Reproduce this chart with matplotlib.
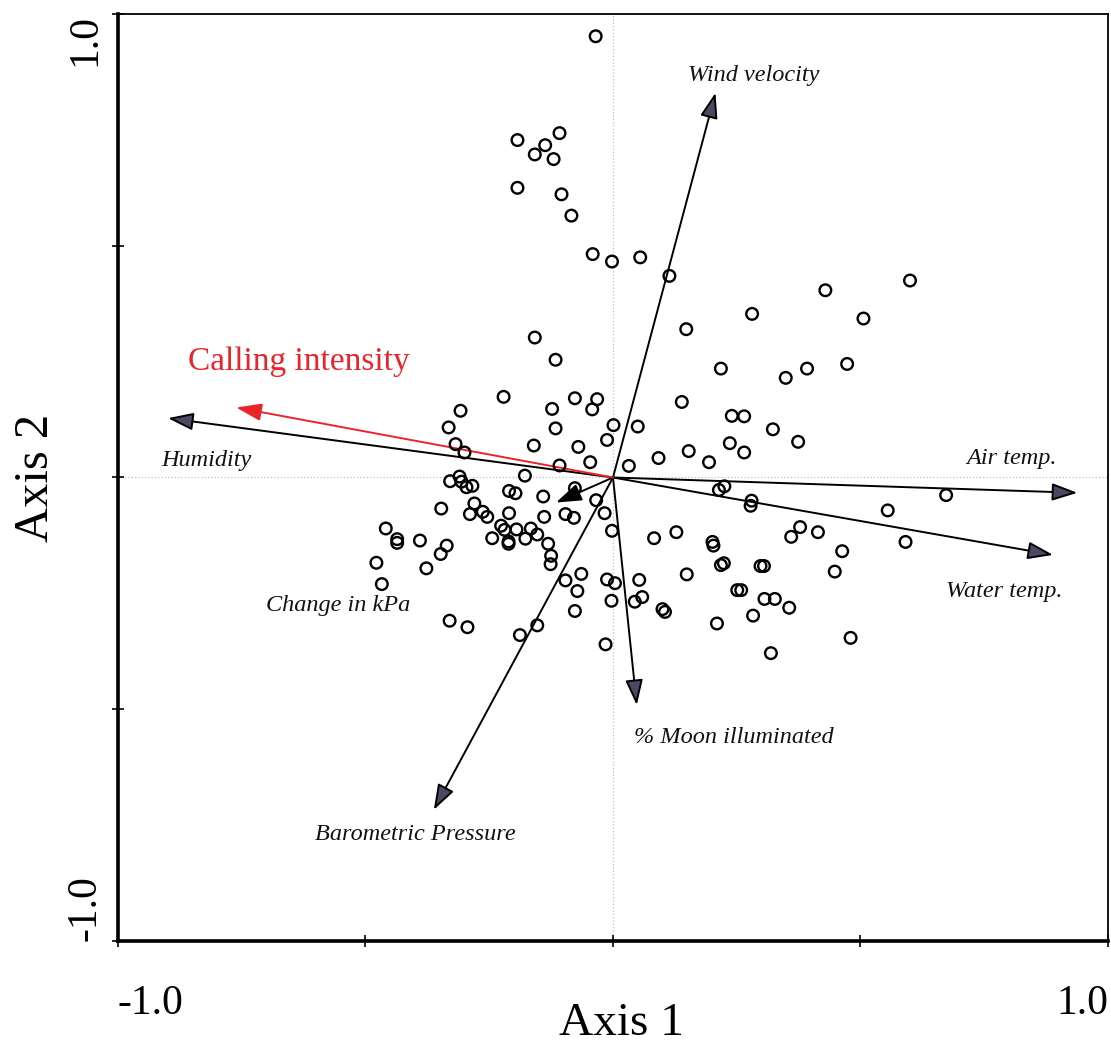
import matplotlib
matplotlib.use("Agg")
import matplotlib.pyplot as plt

plt.rcParams['font.family'] = ['Liberation Serif', 'DejaVu Serif']

# site scores on the first two ordination axes
score_x = [-0.035, -0.193, -0.108, -0.137, -0.158, -0.120, -0.193, -0.104, -0.084, -0.041,
           -0.002, 0.055, 0.114,
           -0.158, -0.116, -0.221, -0.077, -0.032, -0.308, -0.123, -0.042, 0.001, -0.332,
           -0.116, -0.012, -0.160, -0.070, -0.318, -0.300, -0.046, -0.108, -0.178, -0.329,
           -0.310, -0.306, -0.296, -0.284, -0.210, -0.197, -0.141, -0.077, -0.034, -0.347,
           -0.280, -0.289, -0.263, -0.254, -0.210, -0.139, -0.096, -0.079, -0.017, -0.226,
           -0.219, -0.195, -0.166, -0.153, -0.244, -0.211, -0.211, -0.177, -0.131, -0.125,
           -0.126, -0.002, -0.459, -0.436, -0.436, -0.390, -0.336, -0.348, -0.478, -0.377,
           -0.467, -0.096, -0.064, -0.072, -0.077, -0.012, -0.003, -0.330, -0.294, -0.188,
           -0.153, -0.015,
           0.600, 0.429, 0.281, 0.506, 0.148, 0.218, 0.392, 0.473, 0.349, 0.139,
           0.240, 0.265, 0.323, 0.050, 0.374, 0.236, 0.265, 0.153, 0.092, 0.194,
           0.032, 0.225, 0.214, 0.280, 0.278, 0.673, 0.555, 0.591, 0.378, 0.360,
           0.414, 0.463, 0.448, 0.128, 0.083, 0.201, 0.203, 0.224, 0.218, 0.298,
           0.305, 0.149, 0.004, 0.053, 0.044, 0.059, 0.251, 0.259, 0.306, 0.327,
           0.356, 0.100, 0.105, 0.283, 0.210, 0.480, 0.319]
score_y = [0.952, 0.728, 0.743, 0.717, 0.697, 0.687, 0.625, 0.611, 0.565, 0.482,
           0.466, 0.475, 0.435,
           0.302, 0.254, 0.174, 0.171, 0.169, 0.144, 0.148, 0.147, 0.113, 0.108,
           0.106, 0.081, 0.069, 0.066, 0.072, 0.054, 0.033, 0.026, 0.004, -0.008,
           0.002, -0.009, -0.021, -0.018, -0.029, -0.034, -0.041, -0.023, -0.049, -0.067,
           -0.056, -0.079, -0.074, -0.085, -0.077, -0.085, -0.079, -0.087, -0.077, -0.104,
           -0.113, -0.112, -0.110, -0.123, -0.131, -0.138, -0.143, -0.132, -0.143, -0.169,
           -0.187, -0.115, -0.110, -0.133, -0.141, -0.136, -0.147, -0.165, -0.184, -0.196,
           -0.230, -0.222, -0.208, -0.245, -0.288, -0.220, -0.266, -0.309, -0.323, -0.340,
           -0.319, -0.360,
           0.425, 0.404, 0.353, 0.343, 0.320, 0.235, 0.235, 0.245, 0.215, 0.163,
           0.133, 0.132, 0.104, 0.110, 0.077, 0.074, 0.054, 0.057, 0.042, 0.033,
           0.025, -0.019, -0.027, -0.050, -0.061, -0.038, -0.071, -0.139, -0.107, -0.128,
           -0.118, -0.159, -0.203, -0.118, -0.131, -0.139, -0.147, -0.185, -0.189, -0.191,
           -0.191, -0.209, -0.228, -0.221, -0.268, -0.258, -0.243, -0.243, -0.262, -0.262,
           -0.281, -0.284, -0.290, -0.298, -0.315, -0.346, -0.379]

# environmental vectors (biplot arrow tips)
env_names = ['Wind velocity', 'Humidity', 'Air temp.', 'Water temp.',
             'Change in kPa', '% Moon illuminated', 'Barometric Pressure']
env_x = [0.207, -0.899, 0.938, 0.889, -0.115, 0.048, -0.362]
env_y = [0.830, 0.128, -0.033, -0.167, -0.054, -0.491, -0.717]

# response vector
resp_name = 'Calling intensity'
resp_x = -0.761
resp_y = 0.151

# where each vector label sits: (x, y, ha)
label_pos = {
    'Wind velocity': (0.285, 0.868, 'center'),
    'Humidity': (-0.913, 0.036, 'left'),
    'Air temp.': (0.897, 0.040, 'right'),
    'Water temp.': (0.909, -0.245, 'right'),
    'Change in kPa': (-0.701, -0.277, 'left'),
    '% Moon illuminated': (0.042, -0.562, 'left'),
    'Barometric Pressure': (-0.602, -0.771, 'left'),
}

fig = plt.figure(figsize=(11.11, 10.46), dpi=100)
ax = fig.add_axes([0.1062, 0.1004, 0.8911, 0.8862])
ax.set_xlim(-1.0, 1.0)
ax.set_ylim(-1.0, 1.0)

ax.axhline(0, color='#c0c0c0', linestyle=':', linewidth=0.9, zorder=0)
ax.axvline(0, color='#c0c0c0', linestyle=':', linewidth=0.9, zorder=0)

ax.scatter(score_x, score_y, s=70, facecolors='none', edgecolors='black',
           linewidths=1.7, zorder=3)

for name, x, y in zip(env_names, env_x, env_y):
    fc = 'black' if name == 'Change in kPa' else '#4a4963'
    ax.annotate('', xy=(x, y), xytext=(0, 0),
                arrowprops=dict(arrowstyle='-|>,head_length=1.3,head_width=0.45',
                                mutation_scale=12, lw=1.4, edgecolor='black',
                                facecolor=fc, shrinkA=0, shrinkB=0),
                zorder=2)
    tx, ty, ha = label_pos[name]
    ax.text(tx, ty, name, ha=ha, va='center', fontsize=17.5, style='italic',
            color='#111111')

ax.annotate('', xy=(resp_x, resp_y), xytext=(0, 0),
            arrowprops=dict(arrowstyle='-|>,head_length=1.3,head_width=0.45',
                            mutation_scale=12, lw=1.4, color='#e8252b',
                            shrinkA=0, shrinkB=0),
            zorder=2)
ax.text(-0.859, 0.249, resp_name, ha='left', va='center', fontsize=24,
        color='#e8252b')

ticks = [-1.0, -0.5, 0.0, 0.5, 1.0]
tick_labels = ['-1.0', '', '', '', '1.0']
ax.set_xticks(ticks)
ax.set_xticklabels(tick_labels, fontsize=30)
ax.set_yticks(ticks)
ax.set_yticklabels(tick_labels, fontsize=30, rotation=90)
ax.tick_params(direction='inout', length=9, width=1.2)
ax.tick_params(axis='x', pad=27)
ax.tick_params(axis='y', pad=5)

xl = ax.get_xticklabels()
xl[0].set_ha('left')
xl[-1].set_ha('right')
yl = ax.get_yticklabels()
yl[0].set_va('bottom')
yl[-1].set_va('top')

# axis titles placed on the figure so they sit tight to the tick labels
fig.text(0.5597, 0.001, 'Axis 1', ha='center', va='bottom', fontsize=34)
fig.text(0.032, 0.5435, 'Axis 2', ha='center', va='center', fontsize=35,
         rotation=90)

ax.spines['left'].set_linewidth(2.6)
ax.spines['bottom'].set_linewidth(2.6)
ax.spines['top'].set_linewidth(1.3)
ax.spines['right'].set_linewidth(1.3)

fig.savefig('out.png', dpi=100)
